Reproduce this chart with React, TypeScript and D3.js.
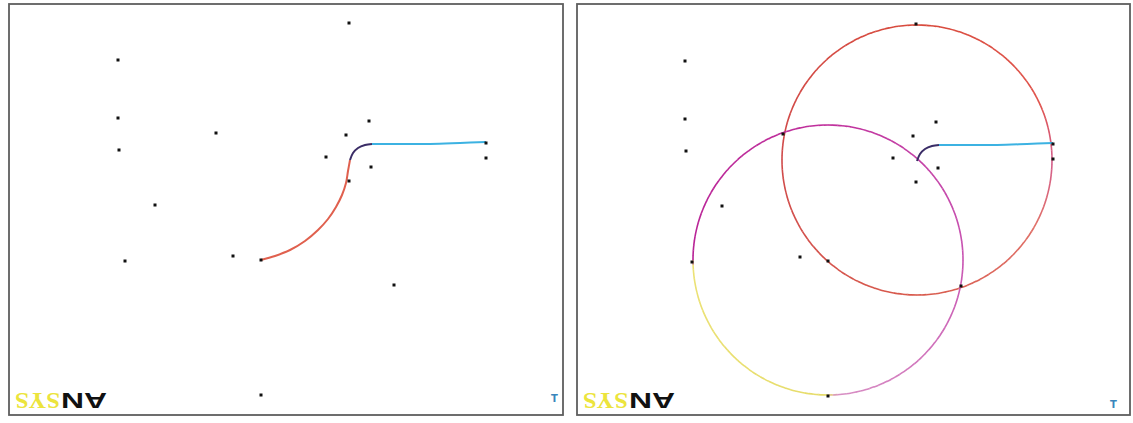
import React from "react";
import * as d3 from "d3";

// Panel-local coordinates (units of the drawing sheet), origin at the sheet's top-left.
const markerPoints: [number, number][] = [
  [340, 19], [109, 56], [109, 114], [360, 117], [207, 129], [337, 131],
  [110, 146], [317, 153], [477, 139], [477, 154], [362, 163], [340, 177],
  [146, 201], [224, 252], [116, 257], [252, 256], [385, 281], [252, 391],
];

// The traced path, split in three legs.
const riseLeg: [number, number][] = [
  [252, 256], [266, 252], [281, 246], [296, 237], [309, 226], [319, 215],
  [327, 203], [333, 191], [337, 179], [339, 167], [341, 156],
];
const kneeLeg: [number, number][] = [
  [341, 156], [344, 149], [349, 144], [356, 141], [363, 140],
];
const runLeg: [number, number][] = [
  [363, 140], [391, 140], [421, 140], [451, 139], [477, 138],
];

// Two construction circles, each centred on an end of the rise leg.
const circleCentres: [number, number][] = [[341, 155], [252, 255]];
const circleRadii = [135, 135];
const circleColourStops: [number, string][][] = [
  [[0, "#d84a3c"], [0.18, "#e0544c"], [0.25, "#d45e8c"], [0.33, "#e07068"],
   [0.5, "#d85a4c"], [0.75, "#d04a4a"], [1, "#d84a3c"]],
  [[0, "#c0309c"], [0.25, "#c854b2"], [0.49, "#d890c4"], [0.5, "#e6dc6a"],
   [0.745, "#ece276"], [0.75, "#b82296"], [1, "#c0309c"]],
];

const panels = [
  { frameX: 9, frameY: 4, frameW: 554, frameH: 411, ox: 9, oy: 4, showRise: true, showCircles: false, logoX: 107, markX: 554.5, markY: 402 },
  { frameX: 577, frameY: 4, frameW: 553, frameH: 411, ox: 576, oy: 5, showRise: false, showCircles: true, logoX: 675, markX: 1113.5, markY: 408 },
];

function colourAt(stops: [number, string][], t: number) {
  for (let i = 0; i < stops.length - 1; i++) {
    const [t0, c0] = stops[i];
    const [t1, c1] = stops[i + 1];
    if (t >= t0 && t <= t1) {
      const k = t1 === t0 ? 0 : (t - t0) / (t1 - t0);
      return d3.interpolateRgb(c0, c1)(k);
    }
  }
  return stops[stops.length - 1][1];
}

function Panel({ p }: { p: (typeof panels)[number] }) {
  const x = d3.scaleLinear().domain([0, 554]).range([p.ox, p.ox + 554]);
  const y = d3.scaleLinear().domain([0, 412]).range([p.oy, p.oy + 412]);
  const line = d3
    .line<[number, number]>()
    .x((d) => x(d[0]))
    .y((d) => y(d[1]))
    .curve(d3.curveCatmullRom);

  const segs = 180;
  const arcs: JSX.Element[] = [];
  if (p.showCircles) {
    circleCentres.forEach((c, ci) => {
      const r = x(circleRadii[ci]) - x(0);
      const arc = d3.arc<any>().innerRadius(r - 0.8).outerRadius(r + 0.8);
      for (let i = 0; i < segs; i++) {
        const a0 = (i / segs) * 2 * Math.PI;
        const a1 = ((i + 1.05) / segs) * 2 * Math.PI;
        arcs.push(
          <path
            key={`c${ci}-${i}`}
            transform={`translate(${x(c[0])},${y(c[1])})`}
            d={arc({ startAngle: a0, endAngle: a1 }) as string}
            fill={colourAt(circleColourStops[ci], (i + 0.5) / segs)}
          />
        );
      }
    });
  }

  return (
    <g>
      <rect
        x={p.frameX}
        y={p.frameY}
        width={p.frameW}
        height={p.frameH}
        fill="#fff"
        stroke="#5e5e5e"
        strokeWidth={1.8}
      />
      {arcs}
      {p.showRise && (
        <path d={line(riseLeg) as string} fill="none" stroke="#e0604e" strokeWidth={2} />
      )}
      <path d={line(kneeLeg) as string} fill="none" stroke="#3a2c66" strokeWidth={2} />
      <path d={line(runLeg) as string} fill="none" stroke="#3cb2e2" strokeWidth={2} />
      {markerPoints.map((d, i) => (
        <rect key={i} x={x(d[0]) - 1.5} y={y(d[1]) - 1.5} width={3} height={3} fill="#111" />
      ))}
      <g transform={`translate(${p.logoX},393) rotate(180)`}>
        <text
          x={0}
          y={0}
          fontFamily="'Liberation Sans', Arial, sans-serif"
          fontWeight="bold"
          fontSize={22}
          fill="#111"
          textLength={46}
          lengthAdjust="spacingAndGlyphs"
        >
          AN
        </text>
        <text
          x={47}
          y={0}
          fontFamily="'Liberation Serif', 'Times New Roman', serif"
          fontWeight="bold"
          fontSize={23}
          fill="#ece43c"
          textLength={45}
          lengthAdjust="spacingAndGlyphs"
        >
          SYS
        </text>
      </g>
      <text
        x={p.markX}
        y={p.markY}
        textAnchor="middle"
        fontFamily="'DejaVu Sans', sans-serif"
        fontWeight="bold"
        fontSize={10}
        fill="#3a86bc"
      >
        T
      </text>
    </g>
  );
}

export default function App() {
  return (
    <svg
      width={1133}
      height={423}
      style={{ position: "absolute", left: 0, top: 0, display: "block", background: "#fff" }}
    >
      {panels.map((p, i) => (
        <Panel key={i} p={p} />
      ))}
    </svg>
  );
}
